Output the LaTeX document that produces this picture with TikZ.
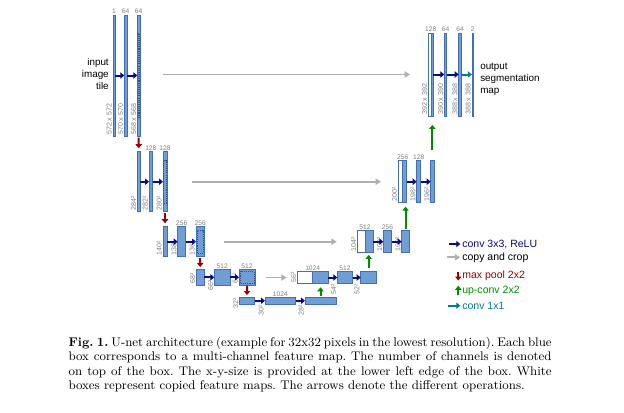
\documentclass[tikz,border=0pt]{standalone}
\usepackage{fontspec}
\newfontfamily\arial{Liberation Sans}
\usetikzlibrary{arrows.meta,fit}
\definecolor{boxfill}{RGB}{112,157,212}
\definecolor{boxedge}{RGB}{65,110,180}
\definecolor{convc}{RGB}{10,10,130}
\definecolor{copyc}{RGB}{176,176,176}
\definecolor{poolc}{RGB}{150,0,0}
\definecolor{upc}{RGB}{0,140,0}
\definecolor{onec}{RGB}{0,128,128}
\definecolor{labc}{RGB}{128,128,128}
\tikzset{
 fmap/.style={draw=boxedge, fill=boxfill, line width=0.45pt, inner sep=0pt, outer sep=0pt},
 wmap/.style={draw=boxedge, fill=white, line width=0.45pt, inner sep=0pt, outer sep=0pt},
 cropbox/.style={draw=boxedge!75!black, line width=0.4pt, dash pattern=on 0.8pt off 0.8pt},
 chan/.style={font=\arial\fontsize{5}{5}\selectfont, text=labc, inner sep=0.7pt, anchor=south},
 sz/.style={font=\arial\fontsize{5.3}{5.3}\selectfont, text=labc, inner sep=0.7pt, rotate=90, anchor=south west},
 conv/.style={draw=convc, line width=1.5pt, -{Triangle[length=3pt,width=4.8pt]}},
 copyarr/.style={draw=copyc, line width=1.4pt, -{Triangle[length=4pt,width=4.6pt]}},
 pool/.style={draw=poolc, line width=1.5pt, -{Triangle[length=3pt,width=4.8pt]}},
 upconv/.style={draw=upc, line width=1.5pt, -{Triangle[length=3pt,width=4.8pt]}},
 onebyone/.style={draw=onec, line width=1.5pt, -{Triangle[length=3pt,width=4.8pt]}},
 side/.style={font=\arial\fontsize{7.4}{9}\selectfont, inner sep=0pt},
 legtext/.style={font=\arial\fontsize{7.9}{9}\selectfont, inner sep=0pt, anchor=west},
}
\begin{document}
\begin{tikzpicture}[x=0.75pt,y=-0.75pt]
\path[use as bounding box, fill=white] (0,0) rectangle (624,412);

% ---------- level 1 ----------
\node[fmap, fit={(113,15)(115,136)}] (e1a) {};
\node[fmap, fit={(124.3,15)(126.9,136)}] (e1b) {};
\node[fmap, fit={(137.3,15)(140.1,136)}] (e1c) {};
\draw[cropbox] (137.9,33.5) rectangle (139.5,117.5);
\node[wmap, fit={(428.3,33)(430.8,116)}] (d1w) {};
\node[fmap, fit={(430.8,33)(433.3,116)}] (d1b) {};
\node[fmap, fit={(444.3,33)(446.7,116)}] (d1c) {};
\node[fmap, fit={(458.7,33)(461.3,116)}] (d1d) {};
\node[fmap, fit={(471.9,33)(473.1,116)}] (d1e) {};

% ---------- level 2 ----------
\node[fmap, fit={(137.5,151.7)(140,211.7)}] (e2a) {};
\node[fmap, fit={(149,151.7)(152.7,211.7)}] (e2b) {};
\node[fmap, fit={(163,151.7)(167,211.7)}] (e2c) {};
\draw[cropbox] (163.7,160.5) rectangle (166.3,203);
\node[wmap, fit={(398.3,160.7)(402.7,202.7)}] (d2w) {};
\node[fmap, fit={(402.7,160.7)(406.7,202.7)}] (d2b) {};
\node[fmap, fit={(416.7,160.7)(420.7,202.7)}] (d2c) {};
\node[fmap, fit={(430.7,160.7)(434,202.7)}] (d2d) {};

% ---------- level 3 ----------
\node[fmap, fit={(163,226.7)(167,256.7)}] (e3a) {};
\node[fmap, fit={(177.7,226.7)(185.7,256.7)}] (e3b) {};
\node[fmap, fit={(196,226.7)(204.3,256.7)}] (e3c) {};
\draw[cropbox] (197,230.5) rectangle (203.3,253);
\node[wmap, fit={(357.3,230.7)(365,252.7)}] (d3w) {};
\node[fmap, fit={(365,230.7)(373.3,252.7)}] (d3b) {};
\node[fmap, fit={(383.3,230.7)(391.7,252.7)}] (d3c) {};
\node[fmap, fit={(401.7,230.7)(409.3,252.7)}] (d3d) {};

% ---------- level 4 ----------
\node[fmap, fit={(196.5,269.5)(204,285)}] (e4a) {};
\node[fmap, fit={(214.3,269.5)(230,285)}] (e4b) {};
\node[fmap, fit={(239,269.5)(255,285)}] (e4c) {};
\draw[cropbox] (240.2,271.2) rectangle (253.8,283.3);
\node[wmap, fit={(297.3,271.7)(312.7,283.3)}] (d4w) {};
\node[fmap, fit={(312.7,271.7)(328.3,283.3)}] (d4b) {};
\node[fmap, fit={(337.3,271.7)(352.7,283.3)}] (d4c) {};
\node[fmap, fit={(360.7,271.7)(376.7,283.3)}] (d4d) {};

% ---------- level 5 ----------
\node[fmap, fit={(239.3,297.3)(254.7,304.2)}] (e5a) {};
\node[fmap, fit={(265,297.3)(295.7,304.2)}] (e5b) {};
\node[fmap, fit={(305,297.3)(336,304.2)}] (e5c) {};

% ---------- channel labels ----------
\node[chan] (c1a) at (e1a.north) {1};
\node[chan] (c1b) at (e1b.north) {64};
\node[chan] (c1c) at (e1c.north) {64};
\node[chan] (c2b) at (e2b.north) {128};
\node[chan] (c2c) at (e2c.north) {128};
\node[chan] (c3b) at (e3b.north) {256};
\node[chan] (c3c) at (e3c.north) {256};
\node[chan] (c4b) at (e4b.north) {512};
\node[chan] (c4c) at (e4c.north) {512};
\node[chan] (c5b) at (e5b.north) {1024};
\node[chan] (k4w) at (d4w.north east) {1024};
\node[chan] (k4c) at (d4c.north) {512};
\node[chan] (k3w) at (d3w.north east) {512};
\node[chan] (k3c) at (d3c.north) {256};
\node[chan] (k2w) at (d2w.north east) {256};
\node[chan] (k2c) at (d2c.north) {128};
\node[chan] (k1w) at (d1w.north east) {128};
\node[chan] (k1c) at (d1c.north) {64};
\node[chan] (k1d) at (d1d.north) {64};
\node[chan] (k1e) at (d1e.north) {2};

% ---------- size labels ----------
\node[sz] (s1a) at (e1a.south west) {572 x 572};
\node[sz] (s1b) at (e1b.south west) {570 x 570};
\node[sz] (s1c) at (e1c.south west) {568 x 568};
\node[sz] (s2a) at (e2a.south west) {284²};
\node[sz] (s2b) at (e2b.south west) {282²};
\node[sz] (s2c) at (e2c.south west) {280²};
\node[sz] (s3a) at (e3a.south west) {140²};
\node[sz] (s3b) at (e3b.south west) {138²};
\node[sz] (s3c) at (e3c.south west) {136²};
\node[sz] (s4a) at (e4a.south west) {68²};
\node[sz, anchor=south] (s4b) at (e4b.south west) {66²};
\node[sz] (s4c) at (e4c.south west) {64²};
\node[sz, anchor=south east] (s5a) at (e5a.north west) {32²};
\node[sz, anchor=south east] (s5b) at (e5b.south west) {30²};
\node[sz, anchor=south east] (s5c) at (e5c.south west) {28²};
\node[sz] (t4w) at (d4w.south west) {56²};
\node[sz, anchor=south east] (t4c) at (d4c.south west) {54²};
\node[sz, anchor=south east] (t4d) at (d4d.south west) {52²};
\node[sz] (t3w) at (d3w.south west) {104²};
\node[sz] (t3c) at (d3c.south west) {102²};
\node[sz] (t3d) at (d3d.south west) {100²};
\node[sz] (t2w) at (d2w.south west) {200²};
\node[sz] (t2c) at (d2c.south west) {198²};
\node[sz] (t2d) at (d2d.south west) {196²};
\node[sz] (t1w) at (d1w.south west) {392 x 392};
\node[sz] (t1c) at (d1c.south west) {390 x 390};
\node[sz] (t1d) at (d1d.south west) {388 x 388};
\node[sz] (t1e) at (d1e.south west) {388 x 388};

% ---------- conv arrows ----------
\draw[conv] (e1a.east) -- (e1b.west);
\draw[conv] (e1b.east) -- (e1c.west);
\draw[conv] (e2a.east) -- (e2b.west);
\draw[conv] (e2b.east) -- (e2c.west);
\draw[conv] (e3a.east) -- (e3b.west);
\draw[conv] (e3b.east) -- (e3c.west);
\draw[conv] (e4a.east) -- (e4b.west);
\draw[conv] (e4b.east) -- (e4c.west);
\draw[conv] (e5a.east) -- (e5b.west);
\draw[conv] (e5b.east) -- (e5c.west);
\draw[conv] (d4b.east) -- (d4c.west);
\draw[conv] (d4c.east) -- (d4d.west);
\draw[conv] (d3b.east) -- (d3c.west);
\draw[conv] (d3c.east) -- (d3d.west);
\draw[conv] (d2b.east) -- (d2c.west);
\draw[conv] (d2c.east) -- (d2d.west);
\draw[conv] (d1b.east) -- (d1c.west);
\draw[conv] (d1c.east) -- (d1d.west);
\draw[onebyone] (d1d.east) -- (d1e.west);

% ---------- max pool ----------
\draw[pool, shorten <=1.2pt, shorten >=2.6pt] (e1c.south) -- (e2a.north);
\draw[pool, shorten <=1pt, shorten >=2.6pt] (e2c.south) -- (e3a.north);
\draw[pool, shorten <=1pt, shorten >=1.9pt] (e3c.south) -- (e4a.north);
\draw[pool, shorten <=0.4pt, shorten >=1.7pt] (e4c.south) -- (e5a.north);

% ---------- up-conv ----------
\draw[upconv, shorten <=1pt, shorten >=3pt] (e5c.north) -- (e5c.north |- d4b.south);
\draw[upconv, shorten <=2.8pt, shorten >=1.7pt] (d4d.north) -- (d4d.north |- d3b.south);
\draw[upconv, shorten <=1.5pt, shorten >=3pt] (d3d.north) -- (d3d.north |- d2b.south);
\draw[upconv, shorten <=8pt, shorten >=6.7pt] (d2d.north) -- (d2d.north |- d1b.south);

% ---------- copy and crop ----------
\draw[copyarr, shorten <=17.2pt, shorten >=13.7pt] (e1c.east |- d1w.west) -- (d1w.west);
\draw[copyarr, shorten <=18.5pt, shorten >=13pt] (e2c.east) -- (d2w.west);
\draw[copyarr, shorten <=14.8pt, shorten >=15.4pt] (e3c.east |- d3w.west) -- (d3w.west);
\draw[copyarr, shorten <=8pt, shorten >=8pt] (e4c.east |- d4w.west) -- (d4w.west);

% ---------- side texts ----------
\node[side, align=right, anchor=east] (inp) at (109,74) {input\\image\\tile};
\node[side, align=left, anchor=west] (outp) at (480,79) {output\\segmentation\\map};

% ---------- legend ----------
\node[legtext, text=convc] (lg1) at (462,244) {conv 3x3, ReLU};
\node[legtext, text=black] (lg2) at (462,257.3) {copy and crop};
\node[legtext, text=poolc] (lg3) at (462,275.7) {max pool 2x2};
\node[legtext, text=upc] (lg4) at (462,290.7) {up-conv 2x2};
\node[legtext, text=onec] (lg5) at (462,305.7) {conv 1x1};
\coordinate (la1) at (449,244);
\coordinate (la2) at (447,257.3);
\coordinate (la3s) at (458.3,271.5);
\coordinate (la3e) at (458.3,280.5);
\coordinate (la4s) at (458.3,295);
\coordinate (la4e) at (458.3,285.8);
\coordinate (la5) at (448.3,305.7);
\draw[conv, shorten >=1.3pt] (la1) -- (lg1.west);
\draw[copyarr, shorten >=1.3pt] (la2) -- (lg2.west);
\draw[pool] (la3s) -- (la3e);
\draw[upconv] (la4s) -- (la4e);
\draw[onebyone, shorten >=1.3pt] (la5) -- (lg5.west);

% ---------- caption ----------
\node[anchor=north west, text width=362.3pt, align=justify, inner sep=0pt,
      font=\fontsize{9.4}{10.7}\selectfont\frenchspacing] (cap) at (68.3,337)
{\textbf{Fig. 1.} U-net architecture (example for 32x32 pixels in the lowest resolution). Each blue\linebreak
box corresponds to a multi-channel feature map. The number of channels is denoted\linebreak
on top of the box. The x-y-size is provided at the lower left edge of the box. White\linebreak
boxes represent copied feature maps. The arrows denote the different operations.};
\end{tikzpicture}
\end{document}
